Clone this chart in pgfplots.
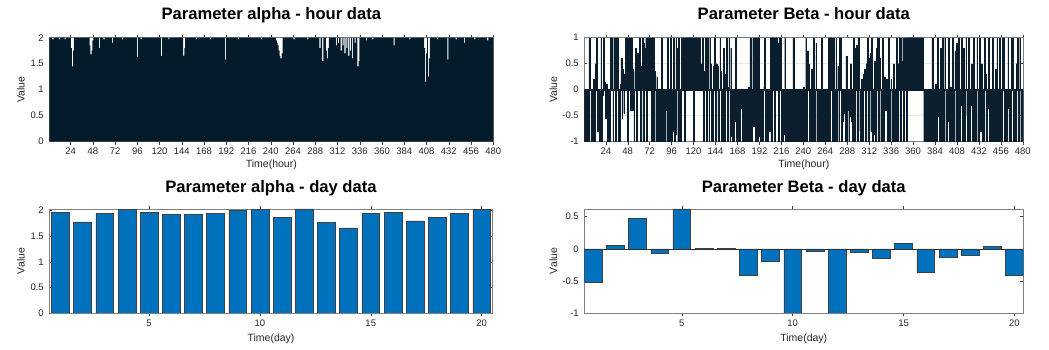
\documentclass[border=0pt]{standalone}
\usepackage{pgfplots}
\usepackage{pgfplotstable}
\pgfplotsset{compat=1.18}
\usepackage{fontspec}
\setmainfont{Liberation Sans}
\definecolor{tcol}{RGB}{38,38,38}
\definecolor{hourbar}{RGB}{4,27,43}
\definecolor{houredge}{RGB}{10,30,45}
\definecolor{daybar}{RGB}{0,114,189}

\pgfplotstableread[header=false,row sep=\\]{
2\\2\\2\\2\\1.97\\2\\2\\2\\2\\2\\2\\1.97\\2\\2\\2\\2\\2\\1.97\\2\\2\\2\\2\\2\\2\\
1.8\\1.45\\1.75\\2\\2\\2\\2\\2\\2\\2\\2\\2\\2\\2\\2\\2\\2\\2\\2\\2\\1.85\\1.68\\1.75\\1.95\\
2\\2\\2\\2\\2\\2\\1.8\\2\\2\\2\\2\\1.97\\2\\2\\2\\2\\2\\2\\2\\2\\1.9\\2\\2\\2\\
2\\2\\2\\2\\2\\2\\2\\1.97\\2\\2\\2\\2\\2\\2\\2\\2\\2\\2\\2\\2\\2\\2\\2\\1.63\\
2\\2\\2\\1.97\\2\\2\\2\\2\\2\\2\\2\\2\\2\\2\\2\\2\\2\\2\\2\\2\\2\\2\\2\\2\\
2\\1.65\\2\\2\\2\\2\\2\\2\\2\\1.97\\2\\2\\2\\2\\2\\2\\2\\2\\2\\2\\2\\2\\2\\2\\
2\\1.65\\1.8\\2\\2\\2\\2\\2\\2\\2\\2\\2\\2\\2\\2\\1.97\\2\\2\\2\\2\\2\\2\\2\\2\\
2\\2\\2\\2\\2\\2\\1.97\\2\\2\\2\\2\\2\\2\\2\\2\\2\\2\\2\\2\\2\\2\\2\\1.58\\2\\
2\\2\\2\\2\\2\\2\\2\\2\\2\\2\\2\\2\\1.97\\2\\2\\2\\2\\2\\2\\2\\2\\2\\2\\2\\
2\\2\\2\\2\\2\\2\\2\\2\\2\\2\\2\\2\\2\\1.97\\2\\2\\2\\2\\2\\2\\2\\2\\2\\2\\
2\\2\\2\\2\\2\\1.95\\1.9\\1.85\\1.75\\1.65\\1.6\\1.7\\2\\2\\2\\2\\2\\2\\2\\2\\2\\2\\2\\2\\
1.97\\2\\2\\2\\2\\2\\2\\2\\2\\2\\2\\2\\2\\2\\2\\1.97\\2\\2\\2\\2\\2\\2\\2\\2\\
2\\2\\2\\2\\1.8\\2\\2\\1.55\\2\\2\\2\\1.75\\1.6\\1.8\\2\\2\\2\\2\\2\\2\\2\\2\\1.85\\2\\
1.9\\2\\2\\1.75\\2\\1.85\\2\\1.7\\2\\1.8\\2\\1.65\\2\\1.75\\2\\1.6\\2\\2\\1.9\\2\\2\\1.45\\1.55\\2\\
2\\2\\2\\2\\2\\2\\1.95\\2\\2\\2\\2\\2\\2\\1.97\\2\\2\\2\\2\\2\\2\\2\\2\\2\\2\\
2\\2\\2\\2\\2\\2\\2\\2\\2\\2\\2\\2\\1.85\\2\\2\\2\\2\\2\\2\\2\\2\\2\\2\\2\\
2\\2\\2\\2\\2\\1.97\\2\\2\\2\\2\\2\\2\\2\\2\\2\\2\\2\\2\\2\\2\\2\\1.8\\1.15\\1.7\\
2\\1.25\\1.6\\2\\2\\2\\2\\2\\2\\2\\2\\1.97\\2\\2\\2\\2\\2\\2\\2\\2\\2\\2\\1.58\\2\\
2\\2\\2\\2\\2\\2\\2\\1.97\\2\\2\\2\\2\\2\\2\\2\\2\\1.9\\2\\2\\2\\2\\2\\2\\2\\
2\\2\\2\\1.97\\2\\2\\2\\2\\2\\2\\2\\2\\2\\2\\2\\2\\2\\1.95\\2\\2\\2\\2\\2\\2\\
}\alphahour

\pgfplotstableread[header=false,row sep=\\]{
-1\\-1\\-1\\-1\\-1\\1\\0.15\\-1\\-1\\-1\\0.2\\-1\\0.5\\1\\-0.8\\-0.75\\-1\\-1\\1\\-1\\-0.1\\1\\0.15\\-0.55\\
0.1\\-1\\-1\\-1\\1\\1\\1\\-1\\1\\1\\-1\\1\\1\\-1\\-1\\0.1\\0.6\\-0.55\\0.4\\-0.45\\0.3\\1\\1\\-1\\
1\\1\\-0.4\\1\\-0.4\\0.4\\-1\\0.35\\0.8\\-1\\0.7\\0.3\\1\\-1\\0.45\\1\\-1\\0.9\\0.8\\1\\-1\\1\\1\\1\\
1\\-1\\1\\-1\\1\\0.35\\-1\\0.25\\-1\\-1\\-0.9\\-1\\1\\-1\\-0.85\\-1\\-1\\-0.4\\-1\\1\\-1\\-1\\1\\-1\\
-0.8\\1\\-1\\-0.85\\1\\0.8\\-1\\1\\-1\\-1\\1\\1\\1\\-1\\1\\1\\1\\1\\1\\1\\1\\1\\1\\-1\\
1\\1\\1\\1\\1\\0.3\\1\\0.5\\0.3\\1\\-1\\0.35\\1\\-1\\1\\1\\-1\\1\\0.5\\-1\\-1\\0.45\\1\\-1\\
0.5\\0.45\\-1\\-1\\1\\0.35\\-1\\-1\\0.8\\-1\\0.3\\1\\-1\\0.05\\1\\-1\\0.8\\-0.9\\-1\\-1\\-0.6\\1\\-1\\-0.9\\
-1\\-1\\-0.35\\-0.35\\-0.35\\-1\\-1\\-0.8\\-1\\-0.5\\-1\\0.05\\-1\\1\\-1\\-1\\1\\-0.7\\1\\-1\\1\\-1\\1\\-0.9\\
-1\\-0.75\\-1\\-1\\0.05\\1\\-1\\-0.75\\-1\\-0.6\\-0.8\\1\\-1\\1\\1\\1\\-1\\1\\1\\0.9\\-1\\1\\1\\-1\\
-1\\-1\\-0.85\\1\\-1\\-1\\-0.9\\-1\\-1\\-0.7\\-1\\-1\\1\\-1\\-1\\-1\\-0.6\\-1\\-1\\-1\\-0.8\\-1\\-1\\0.05\\
-1\\-1\\1\\-1\\0.75\\0.5\\-1\\-1\\0.4\\-1\\1\\-1\\-1\\0.9\\-1\\-1\\-1\\-1\\-1\\1\\-1\\-1\\-1\\-1\\
-1\\-1\\-1\\1\\-1\\1\\1\\-1\\1\\-1\\-1\\1\\-1\\0.45\\-1\\1\\1\\-1\\-0.6\\-0.45\\-0.3\\-1\\0.65\\-1\\
-0.4\\-1\\-0.5\\0.5\\-0.6\\-1\\1\\-1\\0.8\\0.85\\-1\\1\\1\\-0.8\\-1\\0.2\\-1\\0.3\\0.4\\-1\\0.5\\1\\-1\\0.6\\
0.7\\-0.8\\1\\-1\\-0.85\\0.55\\-1\\0.8\\1\\-1\\1\\0.6\\-1\\-1\\1\\-1\\0.25\\-0.4\\0.2\\-1\\1\\-1\\-1\\0.2\\
-1\\-1\\0.5\\-1\\-1\\1\\-1\\0.5\\1\\-1\\1\\0.55\\1\\-1\\1\\1\\-1\\1\\1\\1\\1\\1\\1\\1\\
1\\1\\1\\1\\1\\1\\1\\1\\1\\1\\1\\-1\\-1\\-1\\-1\\-1\\-0.7\\-1\\-1\\-1\\1\\-1\\-1\\-1\\
0.1\\-1\\1\\-0.5\\-1\\0.8\\-1\\1\\-1\\-0.55\\1\\-1\\-1\\-0.6\\1\\-1\\0.05\\-1\\1\\-1\\-1\\0.75\\-1\\0.9\\
-1\\1\\-1\\-0.3\\1\\-1\\0.8\\-1\\-1\\1\\-0.5\\-1\\1\\-1\\-0.3\\0.5\\-1\\1\\-1\\-0.7\\-1\\1\\-1\\-1\\
1\\-0.8\\0.5\\-1\\-1\\1\\0.3\\-1\\-1\\-0.35\\1\\-1\\-1\\-1\\1\\-1\\-1\\0.4\\-1\\1\\-1\\-1\\1\\-1\\
-1\\1\\1\\-1\\-1\\-1\\-0.35\\1\\-1\\-1\\-1\\1\\1\\-1\\-1\\-1\\0.5\\1\\-1\\-1\\1\\-1\\-1\\-1\\
}\betahour

\pgfplotstableread{
day alpha beta
1 1.96 -0.52
2 1.78 0.05
3 1.94 0.47
4 2.02 -0.07
5 1.97 0.62
6 1.92 0.01
7 1.92 0.01
8 1.95 -0.41
9 2.01 -0.20
10 2.02 -1.00
11 1.86 -0.04
12 2.03 -1.00
13 1.77 -0.05
14 1.66 -0.14
15 1.95 0.08
16 1.97 -0.37
17 1.80 -0.135
18 1.86 -0.10
19 1.95 0.04
20 2.02 -0.41
}\daydata

\pgfplotsset{
  mstyle/.style={
    scale only axis,
    anchor=south west,
    axis line style={draw=black!50, line width=0.6pt},
    tick align=inside,
    major tick length=3pt,
    tick style={black!75, line width=0.5pt},
    ticklabel style={font=\fontsize{9.5}{10}\selectfont, text=tcol},
    yticklabel style={xshift=-2pt},
    label style={font=\fontsize{10.5}{11}\selectfont, text=tcol},
    xlabel style={at={(axis description cs:0.5,0)}, anchor=base},
    ylabel style={anchor=center},
    title style={font=\fontsize{16.6}{18}\selectfont\bfseries, anchor=base, at={(axis description cs:0.5,1)}},
    /pgf/number format/assume math mode=true,
    ybar, bar width=0.8,
    height=104pt,
  },
}

\begin{document}
\begin{tikzpicture}
\useasboundingbox (0pt,0pt) rectangle (1049pt,350pt);

% alpha hour
\begin{axis}[mstyle, at={(49.3pt,208.3pt)}, width=444pt,
  xmin=1, xmax=480, ymin=0, ymax=2,
  xtick={24,48,...,480}, ytick={0,0.5,1,1.5,2},
  title={Parameter alpha - hour data}, title style={yshift=12.4pt},
  xlabel={Time(hour)}, xlabel style={yshift=-26pt},
  ylabel={Value}, ylabel style={at={(axis description cs:-0.064,0.5)}},
]
\addplot[fill=hourbar, draw=none] table[x expr=\coordindex+1, y index=0] {\alphahour};
\end{axis}

% beta hour
\begin{axis}[mstyle, at={(584.3pt,208.3pt)}, width=439pt,
  xmin=0.5, xmax=480.5, ymin=-1, ymax=1,
  xtick={24,48,...,480}, ytick={-1,-0.5,0,0.5,1},
  ymajorgrids, major grid style={black!9, line width=0.4pt},
  title={Parameter Beta - hour data}, title style={yshift=12.4pt},
  xlabel={Time(hour)}, xlabel style={yshift=-26pt},
  ylabel={Value}, ylabel style={at={(axis description cs:-0.0706,0.5)}},
]
\addplot[fill=hourbar, draw=houredge, line width=0.3pt] table[x expr=\coordindex+1, y index=0] {\betahour};
\draw[hourbar, line width=0.8pt] (axis cs:0.5,0) -- (axis cs:480.5,0);
\end{axis}

% alpha day
\begin{axis}[mstyle, at={(49.3pt,37pt)}, width=443.4pt,
  xmin=0.5, xmax=20.5, ymin=0, ymax=2.03,
  xtick={5,10,15,20}, ytick={0,0.5,1,1.5,2},
  title={Parameter alpha - day data}, title style={yshift=10.7pt},
  xlabel={Time(day)}, xlabel style={yshift=-29pt},
  ylabel={Value}, ylabel style={at={(axis description cs:-0.064,0.5)}},
]
\addplot[fill=daybar, draw=black!75, line width=0.5pt] table[x=day, y=alpha] {\daydata};
\end{axis}

% beta day
\begin{axis}[mstyle, at={(584.3pt,37pt)}, width=439pt,
  xmin=0.6, xmax=20.4, ymin=-1, ymax=0.62,
  xtick={5,10,15,20}, ytick={-1,-0.5,0,0.5},
  title={Parameter Beta - day data}, title style={yshift=10.7pt},
  xlabel={Time(day)}, xlabel style={yshift=-29pt},
  ylabel={Value}, ylabel style={at={(axis description cs:-0.0706,0.5)}},
]
\addplot[fill=daybar, draw=black!75, line width=0.5pt] table[x=day, y=beta] {\daydata};
\draw[black!80, line width=0.5pt] (axis cs:0.6,0) -- (axis cs:20.4,0);
\end{axis}
\end{tikzpicture}
\end{document}
